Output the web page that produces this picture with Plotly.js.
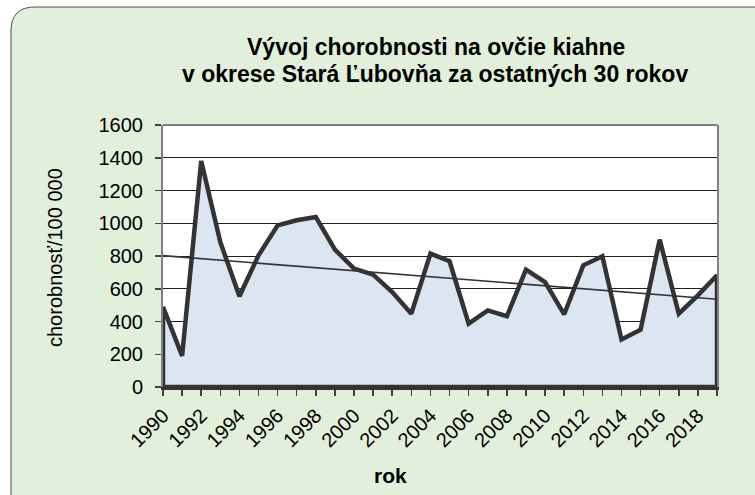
<!DOCTYPE html>
<html>
<head>
<meta charset="utf-8">
<script src="https://cdn.plot.ly/plotly-3.0.1.min.js"></script>
<style>html,body{margin:0;padding:0;background:#ffffff;}#chart{width:755px;height:495px;}</style>
</head>
<body>
<div id="chart"></div>
<script>
// ---- data ----
const years = [1990,1991,1992,1993,1994,1995,1996,1997,1998,1999,2000,2001,2002,2003,2004,2005,2006,2007,2008,2009,2010,2011,2012,2013,2014,2015,2016,2017,2018,2019];
const incidence = [490,190,1380,885,554,804,987,1018,1038,839,723,686,580,448,815,768,387,468,432,717,641,444,743,798,290,350,900,448,560,682];
const tickLabelYears = [1990,1992,1994,1996,1998,2000,2002,2004,2006,2008,2010,2012,2014,2016,2018];
const titleLine1 = "Vývoj chorobnosti na ovčie kiahne";
const titleLine2 = "v okrese Stará Ľubovňa za ostatných 30 rokov";
const xTitle = "rok";
const yTitle = "chorobnosť/100 000";

// ---- linear trend (least squares from the data) ----
const n = years.length;
const mx = years.reduce((a,b)=>a+b,0)/n;
const my = incidence.reduce((a,b)=>a+b,0)/n;
let sxy=0, sxx=0;
for (let i=0;i<n;i++){ sxy += (years[i]-mx)*(incidence[i]-my); sxx += (years[i]-mx)*(years[i]-mx); }
const slope = sxy/sxx, icpt = my - slope*mx;
const trendX = [years[0], years[n-1]];
const trendY = trendX.map(x => icpt + slope*x);

// ---- layout geometry (pixels) ----
const W=755, H=495, L=163, R=38, T=125, B=108;
const PW = W-L-R, PH = H-T-B;
const px = p => (p-L)/PW;
const py = p => (H-B-p)/PH;

const FONT = "Liberation Sans, Arial, sans-serif";

// closed polygon for area (outline all around as in the original)
const areaX = years.concat([years[n-1], years[0], years[0]]);
const areaY = incidence.concat([0, 0, incidence[0]]);

const traces = [
  {x: areaX, y: areaY, type:'scatter', mode:'lines', fill:'toself', fillcolor:'#DCE6F2',
   line:{color:'#333333', width:4.5, shape:'linear'}, hoverinfo:'skip', showlegend:false},
  {x: trendX, y: trendY, type:'scatter', mode:'lines', line:{color:'#333333', width:1.6},
   hoverinfo:'skip', showlegend:false}
];

const tickText = years.map(y => tickLabelYears.includes(y) ? String(y) : '');

// rounded background box
const rr=24;
const boxPath = `M ${px(11)},${py(530)} L ${px(11)},${py(7+rr)} Q ${px(11)},${py(7)} ${px(11+rr)},${py(7)} L ${px(790)},${py(7)} L ${px(790)},${py(530)} Z`;

const layout = {
  width: W, height: H,
  margin: {l:L, r:R, t:T, b:B, pad:0},
  paper_bgcolor: '#ffffff',
  plot_bgcolor: '#ffffff',
  font: {family: FONT, color:'#000000', size:20},
  showlegend: false,
  xaxis: {
    range: [years[0], years[n-1]], tickmode:'array', tickvals: years, ticktext: tickText,
    tickangle: -45, ticks:'outside', ticklen:6, tickwidth:1.5, tickcolor:'#404040',
    showgrid:false, zeroline:false, showline:true, linecolor:'#333333', linewidth:3,
    layer:'below traces', tickfont:{size:20, family:FONT, color:'#000'}, fixedrange:true
  },
  yaxis: {
    range: [0, 1600], dtick: 200, tick0:0, ticks:'outside', ticklen:6, tickwidth:1.5, tickcolor:'#404040',
    ticklabelstandoff: 8,
    showgrid:true, gridcolor:'#1f1f1f', gridwidth:1, zeroline:false,
    showline:true, linecolor:'#7f7f7f', linewidth:2, mirror:true,
    layer:'below traces', tickfont:{size:20, family:FONT, color:'#000'}, fixedrange:true
  },
  shapes: [
    {type:'path', xref:'paper', yref:'paper', path: boxPath, fillcolor:'#E2EFDA',
     line:{color:'#4d4d4d', width:1}, layer:'below'},
    {type:'rect', xref:'paper', yref:'paper', x0:0, x1:1, y0:0, y1:1, fillcolor:'#ffffff',
     line:{width:0}, layer:'below'},
    {type:'line', xref:'paper', yref:'paper', x0:0, x1:1, y0:1, y1:1,
     line:{color:'#7f7f7f', width:2}, layer:'above'}
  ],
  annotations: [
    {text: '<b>' + titleLine1 + '</b>', xref:'paper', yref:'paper', x: px(436), y: py(46.5), xanchor:'center', yanchor:'middle',
     showarrow:false, font:{family:FONT, size:23, color:'#000'}},
    {text: '<b>' + titleLine2 + '</b>', xref:'paper', yref:'paper', x: px(435), y: py(74), xanchor:'center', yanchor:'middle',
     showarrow:false, font:{family:FONT, size:23, color:'#000'}},
    {text: '<b>' + xTitle + '</b>', xref:'paper', yref:'paper', x: px(390), y: py(475), xanchor:'center', yanchor:'middle',
     showarrow:false, font:{family:FONT, size:21, color:'#000'}},
    {text: yTitle, xref:'paper', yref:'paper', x: px(55), y: py(258), xanchor:'center', yanchor:'middle',
     textangle:-90, showarrow:false, font:{family:FONT, size:20, color:'#000'}}
  ]
};

Plotly.newPlot('chart', traces, layout, {staticPlot:true, displayModeBar:false});
</script>
</body>
</html>
